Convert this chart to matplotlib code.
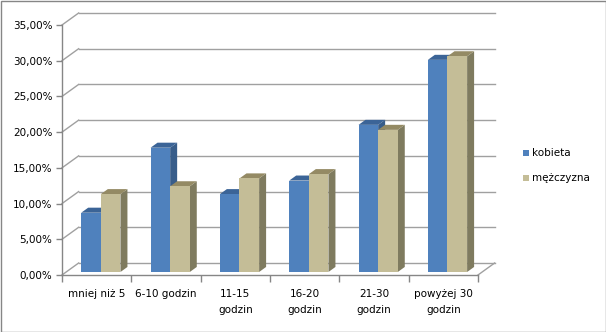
import numpy as np
import matplotlib
matplotlib.use("Agg")
from matplotlib import pyplot as plt
from matplotlib.patches import Polygon, Rectangle

categories = ["mniej niż 5", "6-10 godzin", "11-15\ngodzin", "16-20\ngodzin",
              "21-30\ngodzin", "powyżej 30\ngodzin"]
kobieta = [8.3, 17.4, 10.9, 12.8, 20.6, 29.7]
mezczyzna = [10.9, 12.0, 13.1, 13.7, 19.9, 30.2]
series_names = ["kobieta", "mężczyzna"]
yticks = [0, 5, 10, 15, 20, 25, 30, 35]

# front / side / top colours for each series
faces = [("#4f81bd", "#385d8a", "#3b6497"),
         ("#c4bd97", "#7f7b5f", "#948a64")]

GRID = "#a0a0a0"
AXIS = "#868686"
FONT = 7.5

# depth of the "3d" box, in data units
DX = 0.24
DY = 1.68
# depth range occupied by the bars (fraction of the box depth)
F0, F1 = 0.25, 0.67
BW = 0.283

W, H = 606, 332
fig = plt.figure(figsize=(W / 100, H / 100), dpi=100)
ax = fig.add_axes([62 / W, (H - 275) / H, 416 / W, 250 / H])
ax.set_xlim(0, 6)
ax.set_ylim(0, 35)
for s in ax.spines.values():
    s.set_visible(False)

# back wall, left wall and floor
for y in yticks:
    ax.plot([DX, 6 + DX], [y + DY, y + DY], color=GRID, lw=1, clip_on=False, zorder=1)
    ax.plot([0, DX], [y, y + DY], color=GRID, lw=1, clip_on=False, zorder=1)
ax.plot([6, 6 + DX], [0, DY], color=GRID, lw=1, clip_on=False, zorder=1)
ax.plot([0, 6], [0, 0], color=AXIS, lw=1, clip_on=False, zorder=5)
ax.plot([0, 0], [0, 35], color=AXIS, lw=1, clip_on=False, zorder=5)


def draw_bar(x0, v, cols):
    x1 = x0 + BW
    front, side, top = cols
    ox0, oy0 = F0 * DX, F0 * DY
    ox1, oy1 = F1 * DX, F1 * DY
    ax.add_patch(Polygon([(x1 + ox0, oy0), (x1 + ox1, oy1), (x1 + ox1, v + oy1),
                          (x1 + ox0, v + oy0)], closed=True, fc=side, ec="none",
                         zorder=3, clip_on=False))
    ax.add_patch(Polygon([(x0 + ox0, v + oy0), (x1 + ox0, v + oy0), (x1 + ox1, v + oy1),
                          (x0 + ox1, v + oy1)], closed=True, fc=top, ec="none",
                         zorder=3, clip_on=False))
    ax.bar(x0 + ox0, v, width=BW, bottom=oy0, align="edge", color=front,
           zorder=3, clip_on=False)


for i in range(len(categories)):
    for k, vals in enumerate([kobieta, mezczyzna]):
        draw_bar(i + 0.5 - BW + k * BW, vals[i], faces[k])

ax.set_yticks(yticks)
ax.set_yticklabels([("%.2f%%" % y).replace(".", ",") for y in yticks])
ax.yaxis.set_tick_params(length=4, width=1, color=AXIS, pad=3, labelsize=FONT)
ax.set_xticks(np.arange(7))
ax.set_xticklabels([])
ax.xaxis.set_tick_params(length=5, width=1, color=AXIS)
ax.set_xticks(np.arange(6) + 0.5, minor=True)
ax.set_xticklabels(categories, minor=True, fontsize=FONT, linespacing=1.75)
ax.xaxis.set_tick_params(which="minor", length=0, pad=10)

# legend
for k, name in enumerate(series_names):
    yc = 153 + k * 25
    fig.patches.append(Rectangle((523 / W, (H - yc - 3) / H), 6 / W, 6 / H,
                                 transform=fig.transFigure, fc=faces[k][0], ec="none"))
    fig.text(532 / W, (H - yc) / H, name, fontsize=FONT, va="center", ha="left")

fig.patches.append(Rectangle((0.5 / W, 0.5 / H), (W - 1) / W, (H - 1) / H,
                             transform=fig.transFigure, fill=False, ec=AXIS, lw=1))

fig.savefig("out.png", dpi=100)
